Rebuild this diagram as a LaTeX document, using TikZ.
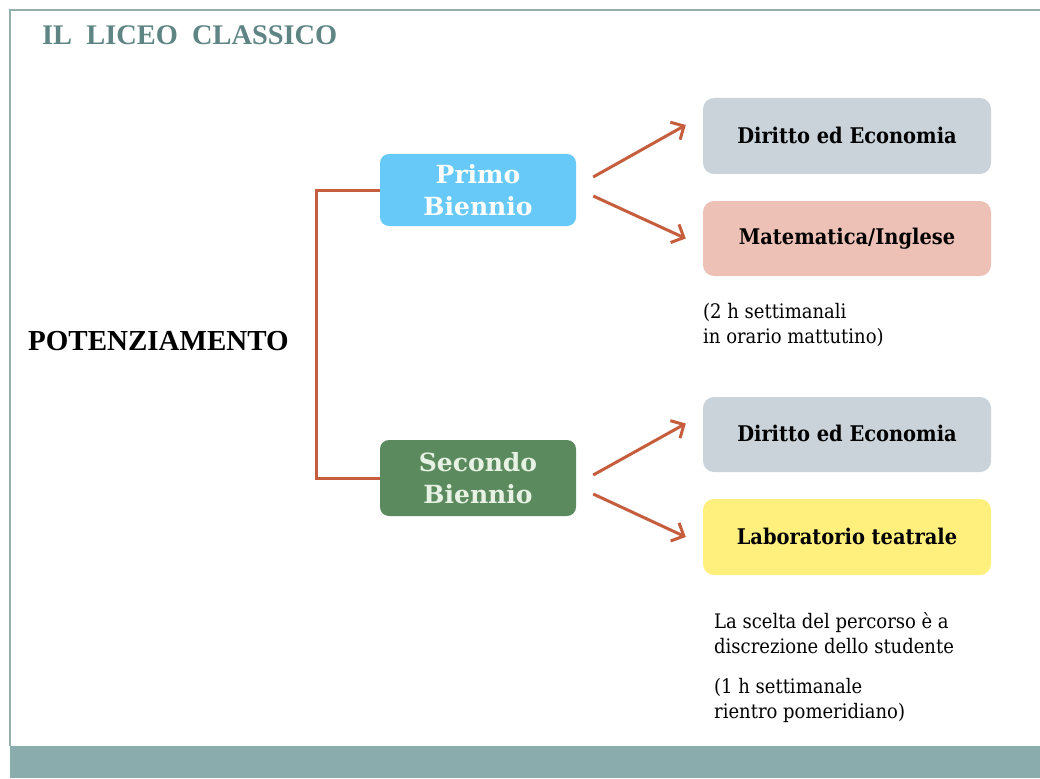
\documentclass[tikz,border=0pt]{standalone}
\usepackage{fontspec}
\setmainfont{Liberation Serif}
\newfontfamily\geo{DejaVu Serif}
\newfontfamily\geoc{DejaVu Serif Condensed}
\usetikzlibrary{arrows.meta}
\definecolor{frameC}{HTML}{93AEAD}
\definecolor{barC}{HTML}{8BACAC}
\definecolor{titleC}{HTML}{5E8584}
\definecolor{lineC}{HTML}{C65E3E}
\definecolor{blueC}{HTML}{66C9F7}
\definecolor{greenC}{HTML}{5B8A5E}
\definecolor{greenT}{HTML}{E8F2E4}
\definecolor{greyC}{HTML}{C9D3D9}
\definecolor{pinkC}{HTML}{EDC1B5}
\definecolor{yellowC}{HTML}{FFF07D}
\tikzset{
  biennio/.style={rounded corners=9pt, minimum width=196pt, inner sep=0pt, align=center,
    font=\geo\bfseries\fontsize{25}{32}\selectfont},
  choice/.style={rounded corners=11pt, minimum width=288pt, inner sep=0pt,
    font=\geoc\bfseries\fontsize{21.6}{24}\selectfont},
  conn/.style={draw=lineC, line width=3pt},
  arr/.style={conn, -{Straight Barb[length=10pt,width=20pt,line width=3pt]}},
  note/.style={anchor=base west, align=left, inner sep=0pt,
    font=\geoc\fontsize{20}{25}\selectfont}
}
\begin{document}
\begin{tikzpicture}[x=1pt,y=-1pt]
\useasboundingbox (0,0) rectangle (1040,778);
\fill[white] (0,0) rectangle (1040,778);
% frame
\draw[frameC, line width=1.2pt] (1040,10) -- (10,10) -- (10,746);
\fill[barC] (10,746) rectangle (1040,778);
% title
\node[anchor=west, inner sep=0pt, text=titleC, font=\bfseries\fontsize{28.4}{30}\selectfont] (title) at (42,35) {IL\ \ LICEO\ \ CLASSICO};
\node[anchor=west, inner sep=0pt, font=\bfseries\fontsize{29}{30}\selectfont] (pot) at (28,341) {POTENZIAMENTO};
% biennio boxes
\node[biennio, fill=blueC, text=white, minimum height=72pt] (primo) at (478,190) {Primo\\Biennio};
\node[biennio, fill=greenC, text=greenT, minimum height=76pt] (secondo) at (478,478) {Secondo\\Biennio};
% right boxes
\node[choice, fill=greyC, minimum height=76pt] (d1) at (847,136) {\raisebox{2pt}{Diritto ed Economia}};
\node[choice, fill=pinkC, minimum height=75pt] (m1) at (847,238.5) {\raisebox{2pt}{Matematica/Inglese}};
\node[choice, fill=greyC, minimum height=75pt] (d2) at (847,434.5) {\raisebox{2pt}{Diritto ed Economia}};
\node[choice, fill=yellowC, minimum height=76pt] (lab) at (847,537) {\raisebox{2pt}{Laboratorio teatrale}};
% bracket
\coordinate (bx) at (316,0);
\draw[conn] (primo.west) -- (primo.west -| bx) -- (secondo.west -| bx) -- (secondo.west);
% arrows
\draw[arr] ([xshift=17pt,yshift=13pt]primo.east) -- ([xshift=-17pt,yshift=11pt]d1.west);
\draw[arr] ([xshift=17pt,yshift=-6pt]primo.east) -- ([xshift=-17pt]m1.west);
\draw[arr] ([xshift=17pt,yshift=3pt]secondo.east) -- ([xshift=-17pt,yshift=11pt]d2.west);
\draw[arr] ([xshift=17pt,yshift=-16pt]secondo.east) -- ([xshift=-17pt]lab.west);
% notes
\node[note] (n1) at (703,343) {(2 h settimanali\\in orario mattutino)};
\node[note] (n2) at (714,653) {La scelta del percorso è a\\discrezione dello studente};
\node[note] (n3) at (714,718) {(1 h settimanale\\rientro pomeridiano)};
\end{tikzpicture}
\end{document}
